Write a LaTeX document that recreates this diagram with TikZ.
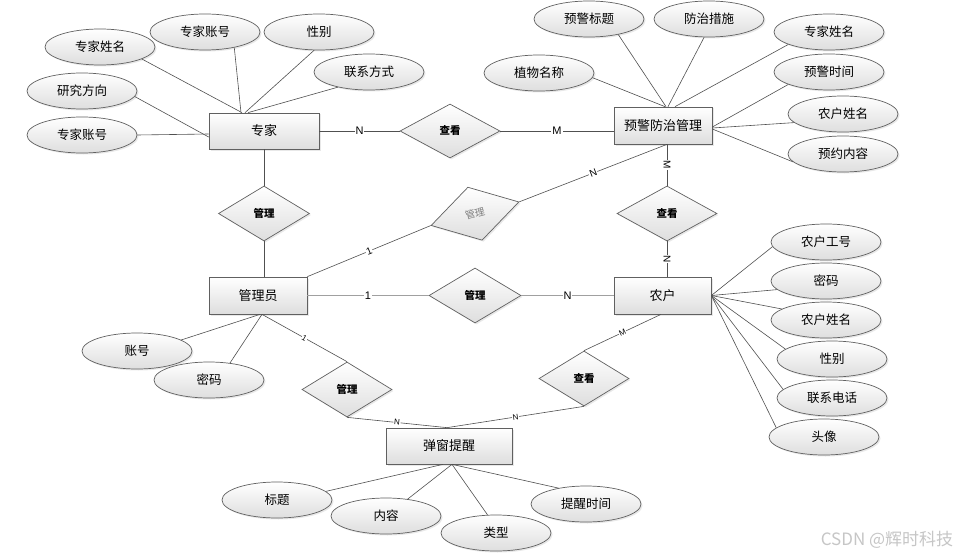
\documentclass[tikz,border=0pt]{standalone}
\usepackage{fontspec}
\setmainfont{Liberation Sans}
\newfontfamily\cjk{Noto Sans CJK SC}
\usetikzlibrary{shapes.geometric,shadows,calc}
\definecolor{edgec}{RGB}{96,96,96}
\definecolor{lnc}{RGB}{80,80,80}
\definecolor{shb}{RGB}{222,222,222}
\definecolor{thickc}{RGB}{160,160,160}
\begin{document}
\begin{tikzpicture}[x=1pt,y=-1pt,
  shp/.style={draw=edgec,line width=0.7pt,top color=white,bottom color=shb,
    drop shadow={shadow xshift=1.5pt,shadow yshift=-1.5pt,opacity=0.18}},
  ent/.style={shp,rectangle,minimum width=98pt,minimum height=37pt,inner sep=0pt,
    font=\cjk\fontsize{13}{15}\selectfont},
  attr/.style={shp,ellipse,minimum width=110pt,minimum height=36pt,inner sep=0pt,
    font=\cjk\fontsize{12.5}{15}\selectfont},
  rel/.style={shp,diamond,minimum width=91pt,minimum height=55pt,inner sep=0pt,
    font=\cjk\bfseries\fontsize{10.5}{12}\selectfont},
  ln/.style={draw=lnc,line width=0.6pt},
  thk/.style={draw=thickc,line width=1.8pt},
  card/.style={fill=white,inner sep=1pt,font=\fontsize{11}{12}\selectfont},
  cardm/.style={fill=white,inner sep=0.8pt,font=\fontsize{10}{11}\selectfont},
  cards/.style={fill=white,inner sep=0.6pt,font=\fontsize{8}{9}\selectfont}]
\useasboundingbox (0,0) rectangle (966,559);
\fill[white] (0,0) rectangle (966,559);

% entities
\node[ent,minimum width=110pt,minimum height=36pt] (zj) at (264,131) {专家};
\node[ent] (yj) at (663,125.5) {预警防治管理};
\node[ent] (gly) at (258,295.5) {管理员};
\node[ent,minimum width=97pt] (nh) at (662.5,295.5) {农户};
\node[ent,minimum width=126pt,minimum height=36pt] (tc) at (449,446) {弹窗提醒};

% relationships
\node[rel,minimum width=100pt,minimum height=54pt] (r1) at (450,131) {查看};
\node[rel] (r2) at (264,213.5) {管理};
\node[rel,rotate=15,font=\cjk\fontsize{10}{12}\selectfont\color{gray}] (r3) at (475,213.7) {管理};
\node[rel,minimum width=100pt] (r4) at (667,213.5) {查看};
\node[rel,minimum width=92pt] (r5) at (475,295.5) {管理};
\node[rel,minimum width=90pt] (r6) at (347,389.5) {管理};
\node[rel,minimum width=90pt] (r7) at (584,378.5) {查看};

% attributes of 专家
\node[attr] (a1) at (100,47) {专家姓名};
\node[attr] (a2) at (205,32) {专家账号};
\node[attr] (a3) at (319,32) {性别};
\node[attr] (a4) at (369,72) {联系方式};
\node[attr] (a5) at (82,91) {研究方向};
\node[attr] (a6) at (82,135) {专家账号};

% attributes of 预警防治管理
\node[attr] (b1) at (539,73) {植物名称};
\node[attr] (b2) at (589,19) {预警标题};
\node[attr] (b3) at (709,19) {防治措施};
\node[attr] (b4) at (829,32) {专家姓名};
\node[attr] (b5) at (829,72) {预警时间};
\node[attr] (b6) at (843,114) {农户姓名};
\node[attr] (b7) at (843,154) {预约内容};

% attributes of 农户
\node[attr] (c1) at (826,242) {农户工号};
\node[attr] (c2) at (826,281) {密码};
\node[attr] (c3) at (826,320) {农户姓名};
\node[attr] (c4) at (832,359) {性别};
\node[attr] (c5) at (832,398) {联系电话};
\node[attr] (c6) at (824,437) {头像};

% attributes of 管理员
\node[attr] (d1) at (137,351) {账号};
\node[attr] (d2) at (209,380) {密码};

% attributes of 弹窗提醒
\node[attr] (e1) at (277,500) {标题};
\node[attr] (e2) at (386,516) {内容};
\node[attr] (e3) at (496,533) {类型};
\node[attr] (e4) at (586,504) {提醒时间};

% attribute links
\draw[ln] (a1.344) -- ([xshift=-22pt]zj.north);
\draw[ln] (a2.332) -- ([xshift=-23pt]zj.north);
\draw[ln] (a3.255) -- ([xshift=-19pt]zj.north);
\draw[ln] (a4.206) -- ([xshift=-16pt]zj.north);
\draw[ln] (a5.354) -- ([yshift=-6pt]zj.west);
\draw[ln] (a6.east) -- ([yshift=-3pt]zj.west);

\draw[ln] (b1.355) -- ([xshift=2pt]yj.north);
\draw[ln] (b2.332) -- ([xshift=3pt]yj.north);
\draw[ln] (b3.255) -- ([xshift=5pt]yj.north);
\draw[ln] (b4.197) -- ([xshift=12pt]yj.north);
\draw[ln] (b5.197) -- ([yshift=-1.5pt]yj.east);
\draw[ln] (b6.190) -- ([yshift=-2.5pt]yj.east);
\draw[ln] (b7.189) -- ([yshift=-3.5pt]yj.east);

\draw[ln] (c1.185) -- (nh.east);
\draw[ln] (c2.190) -- (nh.east);
\draw[ln] (c3.166) -- (nh.east);
\draw[ln] (c4.168) -- (nh.east);
\draw[ln] (c5.170) -- (nh.east);
\draw[ln] (c6.169) -- (nh.east);

\draw[ln] (d1.14) -- ([xshift=2pt]gly.south);
\draw[ln] (d2.39) -- ([xshift=4pt]gly.south);

\draw[ln] (e1.10) -- ([xshift=-6pt]tc.south);
\draw[ln] (e2.38) -- ([xshift=3pt]tc.south);
\draw[ln] (e3.115) -- ([xshift=3pt]tc.south);
\draw[ln] (e4.150) -- ([xshift=3pt]tc.south);

% relationship links
\draw[ln] (zj.east) -- node[card]{N} (r1.west);
\draw[ln] (r1.east) -- node[card]{M} (yj.west |- r1.east);
\draw[ln] (zj.south) -- (r2.north);
\draw[ln] (r2.south) -- (r2.south |- gly.north);
\draw[ln] (gly.north east) -- node[cardm,sloped]{1} (r3.west);
\draw[ln] (r3.east) -- node[cardm,sloped]{N} (r4.north |- yj.south);
\draw[ln] (r4.north |- yj.south) -- node[cardm,rotate=-90]{M} (r4.north);
\draw[ln] (r4.south) -- node[cardm,rotate=-90]{N} (r4.south |- nh.north);
\draw[thk] (gly.east) -- node[card]{1} (r5.west);
\draw[thk] (r5.east) -- node[card]{N} (nh.west);
\draw[ln] ([xshift=4pt]gly.south) -- node[cards,sloped]{1} (r6.north);
\draw[ln] (r6.south) -- node[cards,sloped]{N} ([xshift=-2pt]tc.north);
\draw[ln] (r7.south) -- node[cards,sloped]{N} ([xshift=-2pt]tc.north);
\draw[ln] (r7.north) -- node[cards,sloped]{M} ([xshift=-1.5pt]nh.south);

% watermark
\node[font=\cjk\fontsize{17}{19}\selectfont,text=gray!45] (wm) at (887,540) {CSDN @辉时科技};
\end{tikzpicture}
\end{document}
